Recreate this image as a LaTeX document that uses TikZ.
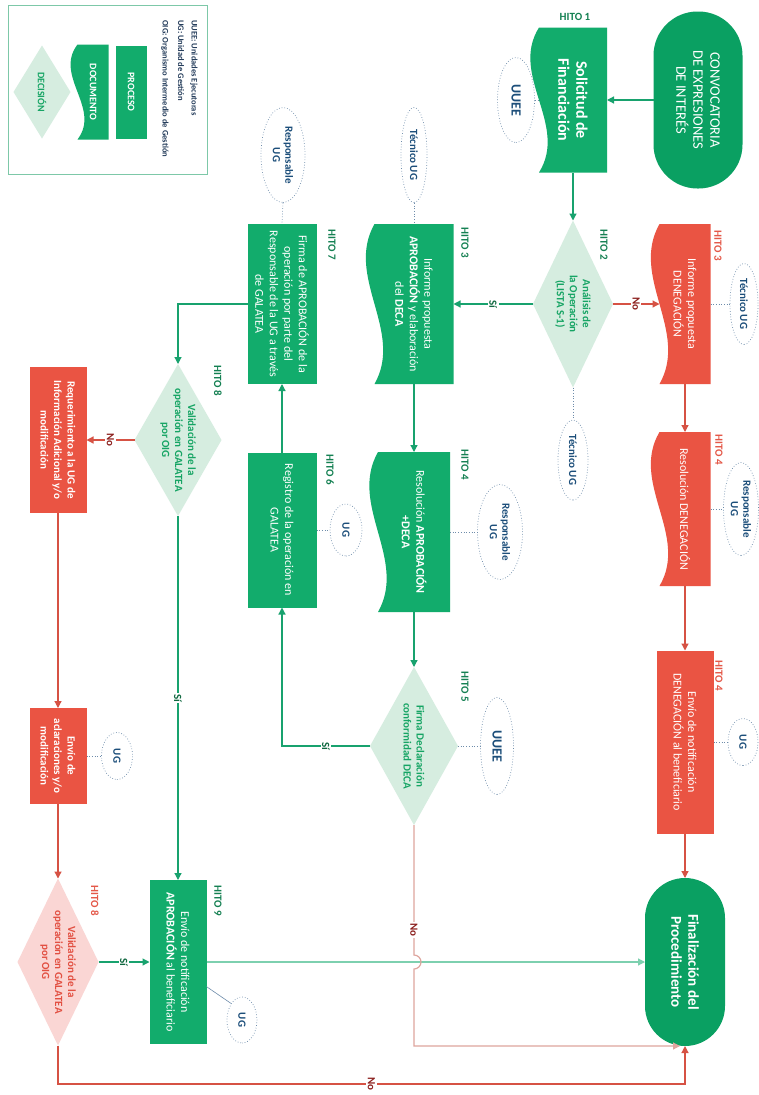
\documentclass[tikz,border=0pt]{standalone}
\usepackage{fontspec}
\setmainfont{Carlito}
\usetikzlibrary{arrows.meta,shapes.geometric,positioning,calc}

% colores
\definecolor{cverde}{RGB}{18,172,108}
\definecolor{cterm}{RGB}{10,160,98}
\definecolor{crojo}{RGB}{234,84,67}
\definecolor{cdecv}{RGB}{214,237,224}
\definecolor{cdecr}{RGB}{250,214,212}
\definecolor{ctxtv}{RGB}{22,164,100}
\definecolor{ctxtr}{RGB}{226,80,66}
\definecolor{chitov}{RGB}{20,128,82}
\definecolor{chitor}{RGB}{228,88,72}
\definecolor{cazul}{RGB}{28,78,122}
\definecolor{cborde}{RGB}{110,140,170}
\definecolor{clinea}{RGB}{24,162,110}
\definecolor{cverdeclaro}{RGB}{125,208,175}
\definecolor{clinear}{RGB}{214,82,68}
\definecolor{crojoclaro}{RGB}{222,165,158}
\definecolor{cno}{RGB}{140,32,30}
\definecolor{csi}{RGB}{16,104,64}
\definecolor{cley}{RGB}{125,200,168}
\definecolor{cleytxt}{RGB}{38,62,92}

\pgfdeclarelayer{fondo}
\pgfsetlayers{fondo,main}

\tikzset{
  proc/.style={rectangle, fill=cverde, text=white, inner sep=2pt, outer sep=0pt, align=center, font=\fontsize{12}{14.5}\selectfont},
  procr/.style={proc, fill=crojo},
  docu/.style={proc, fill=none},
  deci/.style={rectangle, inner sep=0pt, outer sep=0pt, align=center, text=ctxtv, font=\bfseries\fontsize{11}{13}\selectfont},
  term/.style={rectangle, fill=cterm, text=white, inner sep=2pt, outer sep=0pt, align=center, font=\bfseries\fontsize{15}{17}\selectfont},
  actor/.style={ellipse, draw=cborde, dotted, line width=0.7pt, fill=white, text=cazul, inner sep=0pt, align=center, font=\bfseries\fontsize{11}{12.5}\selectfont},
  hitog/.style={inner sep=0pt, text=chitov, font=\bfseries\fontsize{11}{13}\selectfont},
  hitor/.style={hitog, text=chitor},
  leyenda/.style={inner sep=0pt, text=cleytxt, font=\bfseries\fontsize{8.5}{10}\selectfont},
  flecha/.style={draw=clinea, line width=1.2pt, -{Triangle[length=7pt,width=7pt]}},
  flechar/.style={flecha, draw=clinear},
  punteo/.style={draw=cborde, dotted, line width=0.7pt},
  etiq/.style={fill=white, inner sep=1.5pt, font=\bfseries\fontsize{11}{13}\selectfont},
}

\begin{document}
\begin{tikzpicture}[x=1pt, y=1pt]
\useasboundingbox (0,0) rectangle (759,-1095);

\begin{scope}[rotate=-90, transform shape]

% leyenda
\draw[draw=cley, line width=0.8pt] (5,8) rectangle (174,207);
\node[leyenda, anchor=west] (leyuuee) at (20,194) {UUEE: Unidades Ejecutoras};
\node[leyenda, anchor=west] (leyug) at (20,181) {UG: Unidad de Gestión};
\node[leyenda, anchor=west] (leyoig) at (20,165) {OIG: Organismo Intermedio de Gestión};
\node[proc, minimum width=93pt, minimum height=31pt, font=\bfseries\fontsize{10}{12}\selectfont] (leyproc) at (92,131) {PROCESO};
\node[docu, minimum width=95pt, minimum height=31pt, font=\bfseries\fontsize{10}{12}\selectfont] (leydoc) at (92,93) {DOCUMENTO};
\node[deci, minimum width=93pt, minimum height=57pt, font=\bfseries\fontsize{10}{12}\selectfont] (leydec) at (92,42) {DECISIÓN};

% inicio
\node[term, rounded corners=44pt, minimum width=177pt, minimum height=89pt, font=\fontsize{14.5}{17}\selectfont] (conv) at (100,698) {CONVOCATORIA\\DE EXPRESIONES\\DE INTERÉS};
\node[docu, minimum width=145pt, minimum height=68pt, font=\bfseries\fontsize{16}{18}\selectfont] (sol) at (100,573) {Solicitud de\\Financiación};
\node[hitog, rotate=90] (h1) at (17,575) {HITO 1};
\node[actor, minimum width=85pt, minimum height=37pt, font=\bfseries\fontsize{14}{16}\selectfont] (uuee1) at (100,516) {UUEE};

% analisis
\node[deci, minimum width=167pt, minimum height=80pt] (dec2) at (304,573) {Análisis de\\la Operación\\(LISTA S-1)};
\node[hitog] (h2) at (245,604) {HITO 2};
\node[actor, minimum width=80pt, minimum height=30pt] (tec1) at (460,573) {Técnico UG};

% denegacion
\node[docu, minimum width=160pt, minimum height=51pt] (denA) at (304,685) {Informe propuesta\\DENEGACIÓN};
\node[hitor] (h3r) at (246,718) {HITO 3};
\node[actor, minimum width=81pt, minimum height=28pt] (tec2) at (304,744) {Técnico UG};
\node[docu, minimum width=154pt, minimum height=51pt] (denB) at (509,685) {Resolución DENEGACIÓN};
\node[hitor] (h4r) at (450,719) {HITO 4};
\node[actor, minimum width=93pt, minimum height=35pt] (resp1) at (509,741) {Responsable\\UG};
\node[procr, minimum width=183pt, minimum height=57pt] (denC) at (742,685) {Envío de notificación\\DENEGACIÓN al beneficiario};
\node[hitor] (h4r2) at (676,719) {HITO 4};
\node[actor, minimum width=47pt, minimum height=30pt] (ug1) at (742,743) {UG};
\node[term, rounded corners=40pt, minimum width=168pt, minimum height=80pt] (fin) at (962,685) {Finalización del\\Procedimiento};

% aprobacion
\node[docu, minimum width=160pt, minimum height=79pt] (apA) at (304,414) {Informe propuesta\\\textbf{APROBACIÓN} y elaboración\\del \textbf{DECA}};
\node[hitog] (h3g) at (243,465) {HITO 3};
\node[actor, minimum width=95pt, minimum height=26pt] (tec3) at (155,414) {Técnico UG};
\node[docu, minimum width=160pt, minimum height=72pt] (apB) at (532,414) {Resolución \textbf{APROBACIÓN}\\\textbf{+DECA}};
\node[hitog] (h4g) at (465,465) {HITO 4};
\node[actor, minimum width=95pt, minimum height=45pt] (resp2) at (532,500) {Responsable\\UG};
\node[deci, minimum width=158pt, minimum height=88pt] (dec5) at (746,414) {Firma Declaración\\conformidad DECA};
\node[hitog] (h5) at (687,465) {HITO 5};
\node[actor, minimum width=97pt, minimum height=33pt, font=\bfseries\fontsize{14}{16}\selectfont] (uuee2) at (746,497) {UUEE};

% galatea
\node[proc, minimum width=160pt, minimum height=69pt] (firma) at (304,282) {Firma de APROBACIÓN de la\\operación por parte del\\Responsable de la UG a través\\de GALATEA};
\node[hitog] (h7) at (245,332) {HITO 7};
\node[actor, minimum width=95pt, minimum height=44pt] (resp3) at (155,283) {Responsable\\UG};
\node[proc, minimum width=155pt, minimum height=69pt] (reg) at (530,282) {Registro de la operación en\\GALATEA};
\node[hitog] (h6) at (470,330) {HITO 6};
\node[actor, minimum width=52pt, minimum height=32pt] (ug2) at (530,346) {UG};

\node[deci, minimum width=152pt, minimum height=87pt] (dec8) at (440,178) {Validación de la\\operación en GALATEA\\por OIG};
\node[hitog] (h8g) at (381,218) {HITO 8};
\node[proc, minimum width=164pt, minimum height=57pt] (apr9) at (962,178) {Envío de notificación\\\textbf{APROBACIÓN} al beneficiario};
\node[hitog] (h9) at (901,218) {HITO 9};
\node[actor, minimum width=46pt, minimum height=30pt] (ug4) at (1020,242) {UG};

% requerimiento
\node[procr, minimum width=146pt, minimum height=57pt, font=\bfseries\fontsize{11}{13.5}\selectfont] (req) at (440,58) {Requerimiento a la UG de\\Información Adicional y/o\\modificación};
\node[procr, minimum width=96pt, minimum height=57pt, font=\bfseries\fontsize{11}{13.5}\selectfont] (env) at (756,58) {Envío de\\aclaraciones y/o\\modificación};
\node[actor, minimum width=47pt, minimum height=31pt] (ug3) at (756,117) {UG};
\node[deci, minimum width=167pt, minimum height=81pt, text=ctxtr] (dec8r) at (962,58) {Validación de la\\operación en GALATEA\\por OIG};
\node[hitor] (h8r) at (901,95) {HITO 8};

% formas de fondo
\begin{pgfonlayer}{fondo}
\fill[white] (0,0) rectangle (1095,759);
\foreach \n/\c/\a in {sol/cverde/30, apA/cverde/30, apB/cverde/30, denA/crojo/30, denB/crojo/30, leydoc/cverde/24}
  \fill[\c] (\n.north west) -- (\n.north east) -- (\n.south east)
    .. controls ($(\n.south east)!0.33!(\n.south west)+(0,\a)$) and ($(\n.south east)!0.67!(\n.south west)+(0,-\a)$) .. (\n.south west) -- cycle;
\foreach \n/\c in {dec2/cdecv, dec5/cdecv, dec8/cdecv, dec8r/cdecr, leydec/cdecv}
  \fill[\c] (\n.north) -- (\n.east) -- (\n.south) -- (\n.west) -- cycle;
\end{pgfonlayer}

% conectores
\draw[flecha] (conv.south) -- (sol.north);
\draw[punteo] (uuee1.north) -- (sol.south);
\draw[flecha] (sol.east) -- (dec2.west);
\draw[punteo] (dec2.east) -- (tec1.west);
\draw[flechar] (dec2.north) -- node[etiq, text=cno] {No} (denA.south);
\draw[punteo] (denA.north) -- (tec2.south);
\draw[flechar] (denA.east) -- (denB.west);
\draw[punteo] (denB.north) -- (resp1.south);
\draw[flechar] (denB.east) -- (denC.west);
\draw[punteo] (denC.north) -- (ug1.south);
\draw[flechar] (denC.east) -- (fin.west);
\draw[flecha] (dec2.south) -- node[etiq, text=csi] {Sí} (apA.north);
\draw[punteo] (tec3.east) -- (apA.west);
\draw[flecha] (apA.east) -- (apB.west);
\draw[punteo] (apB.north) -- (resp2.south);
\draw[flecha] (apB.east) -- (dec5.west);
\draw[punteo] (dec5.north) -- (uuee2.south);
\draw[flecha] (dec5.south) |- node[etiq, pos=0.25, text=csi] {Sí} (reg.east);
\draw[punteo] (reg.north) -- (ug2.south);
\draw[flecha] (reg.west) -- (firma.east);
\draw[punteo] (resp3.east) -- (firma.west);
\draw[flecha] (firma.south) |- (dec8.west);
\draw[flechar] (dec8.south) -- node[etiq, text=cno] {No} (req.north);
\draw[flecha] (dec8.east) -- node[etiq, text=csi] {Sí} (apr9.west);
\draw[flechar] (req.east) -- (env.west);
\draw[punteo] (env.north) -- (ug3.south);
\draw[flechar] (env.east) -- (dec8r.west);
\draw[flecha] (dec8r.north) -- node[etiq, text=csi] {Sí} (apr9.south);
\draw[draw=cborde, line width=0.6pt] ($(apr9.north)!0.3!(apr9.north east)$) -- (ug4.south west);
\draw[flecha, draw=cverdeclaro] (apr9.north) -- (fin.south);
\draw[flechar, draw=crojoclaro] (dec5.east) -- node[etiq, pos=0.81, text=cno] {No} ++(130,0) arc[start angle=180, end angle=0, radius=7] -| ($(fin.east)+(0,-5)$);
\draw[flechar] (dec8r.east) -| node[etiq, pos=0.75, text=cno] {No} ($(fin.east)+(38,0)$) -- (fin.east);

\end{scope}
\end{tikzpicture}
\end{document}
